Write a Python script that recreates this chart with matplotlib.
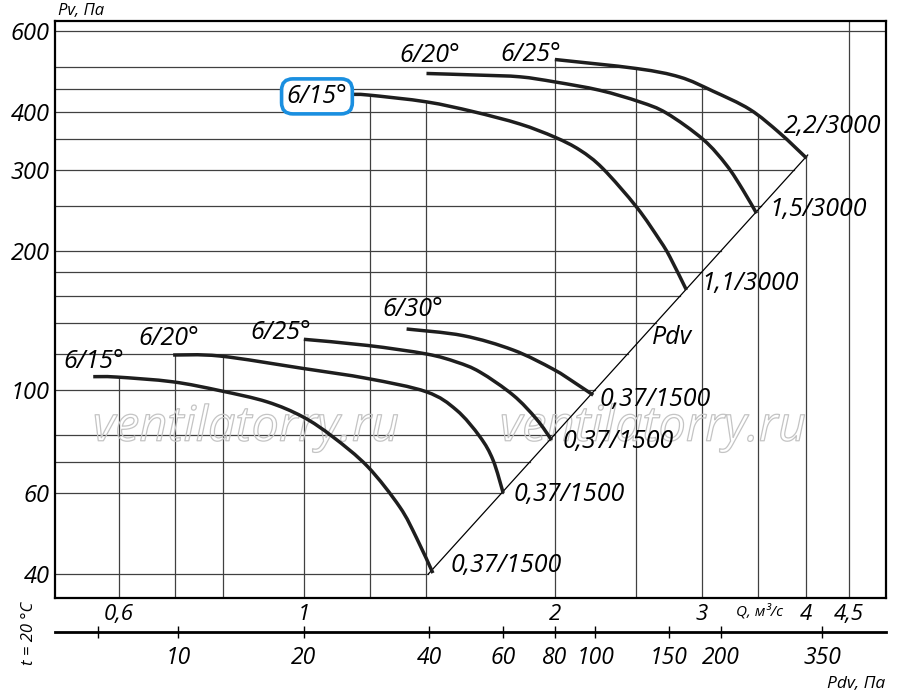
import numpy as np
import matplotlib
matplotlib.use('Agg')
import matplotlib.pyplot as plt
import matplotlib.patheffects as pe
from matplotlib.path import Path
from matplotlib.patches import PathPatch
from matplotlib.ticker import FixedLocator, FixedFormatter, NullLocator

# fan curves, Q in m3/s, Pv in Pa
# 1500 rpm, 0.37 kW
q15_lo = [0.559, 0.596, 0.696, 0.793, 0.903, 0.997, 1.083, 1.193, 1.303, 1.365, 1.428]
p15_lo = [107, 106.8, 104.3, 99.8, 94.4, 87.6, 79.3, 68.3, 55.9, 47.9, 40.2]
q20_lo = [0.697, 0.793, 0.997, 1.193, 1.403, 1.524, 1.626, 1.686, 1.734]
p20_lo = [119.2, 118.6, 111.5, 106.0, 99.2, 90.6, 79.3, 70.6, 59.9]
q25_lo = [1.0, 1.193, 1.403, 1.524, 1.626, 1.782, 1.901, 1.982]
p25_lo = [128.9, 125.0, 119.8, 115.1, 109.5, 97.6, 86.6, 78.0]
q30_lo = [1.328, 1.552, 1.782, 1.990, 2.123, 2.223]
p30_lo = [135.7, 131.3, 122.2, 111.1, 103.2, 97.6]
# 3000 rpm
q15_hi = [1.142, 1.196, 1.403, 1.596, 1.816, 2.0, 2.143, 2.283, 2.507, 2.673, 2.747, 2.876]
p15_hi = [437, 435.5, 421, 401, 377, 353, 331, 302, 249, 211, 194.5, 164.8]
q20_hi = [1.403, 1.626, 1.816, 2.0, 2.264, 2.528, 2.722, 3.012, 3.213, 3.363, 3.49]
p20_hi = [485, 481, 477, 465, 446, 421, 398, 349, 307, 271, 241.5]
q25_hi = [2.0, 2.508, 2.824, 3.093, 3.426, 3.722, 4.007]
p25_hi = [520, 497, 476.4, 444.3, 405.4, 360.2, 318]

# dynamic pressure line
pdv_q = [1.41, 4.02]
pdv_p = [40, 323]
PDV_K = 20  # Pdv = 20 * Q^2

start_labels = ['6/15°', '6/20°', '6/25°', '6/30°', '6/15°', '6/20°', '6/25°']
end_labels = ['0,37/1500', '0,37/1500', '0,37/1500', '0,37/1500',
              '1,1/3000', '1,5/3000', '2,2/3000']

h_grid = [40, 60, 70, 80, 100, 120, 140, 160, 180, 200, 250, 300, 350, 400, 450, 500, 600]
v_grid = [0.6, 0.7, 0.8, 1, 1.2, 1.4, 2, 2.5, 3, 3.5, 4, 4.5]

y_ticks = [40, 60, 100, 200, 300, 400, 600]
x_ticks = [0.6, 1, 2, 3, 4, 4.5]
x_tick_labels = ['0,6', '1', '2', '3', '4', '4,5']
pdv_ticks = [6.4, 10, 20, 40, 60, 80, 100, 150, 200, 350]
pdv_tick_labels = ['', '10', '20', '40', '60', '80', '100', '150', '200', '350']

curves = [(q15_lo, p15_lo), (q20_lo, p20_lo), (q25_lo, p25_lo), (q30_lo, p30_lo),
          (q15_hi, p15_hi), (q20_hi, p20_hi), (q25_hi, p25_hi)]

plt.rcParams['font.family'] = ['Open Sans', 'DejaVu Sans']
plt.rcParams['font.style'] = 'italic'

XMIN, XMAX = 0.503, 4.99
YMIN, YMAX = 35.5, 630


def p_at(q, qs, ps):
    return 10 ** np.interp(np.log10(q), np.log10(qs), np.log10(ps), left=np.nan, right=np.nan)


def q_at(p, qs, ps):
    lp, lq = np.log10(ps), np.log10(qs)
    order = np.argsort(lp)
    return 10 ** np.interp(np.log10(p), lp[order], lq[order], left=np.nan, right=np.nan)


def smooth_path(qs, ps):
    # bezier path through the read points (catmull-rom handles, log space)
    pts = np.column_stack([np.log10(qs), np.log10(ps)])
    ext = np.vstack([pts[0], pts, pts[-1]])
    verts, codes = [pts[0]], [Path.MOVETO]
    for i in range(len(pts) - 1):
        a, b, c, d = ext[i], ext[i + 1], ext[i + 2], ext[i + 3]
        verts += [b + (c - a) / 6, c - (d - b) / 6, c]
        codes += [Path.CURVE4] * 3
    return Path(10 ** np.array(verts), codes)


fig = plt.figure(figsize=(9, 6.94), dpi=100)
ax = fig.add_axes([55 / 900, 96 / 694, 831 / 900, 577 / 694])
ax.set_xscale('log')
ax.set_yscale('log')
ax.set_xlim(XMIN, XMAX)
ax.set_ylim(YMIN, YMAX)

all_lines = curves + [(pdv_q, pdv_p)]
grid_kw = dict(color='#404040', lw=0.9, zorder=1)

# horizontal grid stops at the outer curve / Pdv line
for p in h_grid:
    ends = [q_at(p, np.array(qs), np.array(ps)) for qs, ps in all_lines]
    ends = [e for e in ends if not np.isnan(e)]
    right = max(ends) if ends else XMAX
    ax.plot([XMIN, right], [p, p], **grid_kw)

# vertical grid stops at the top curve
for q in v_grid:
    tops = [p_at(q, np.array(qs), np.array(ps)) for qs, ps in all_lines]
    tops = [t for t in tops if not np.isnan(t)]
    top = max(tops) if tops else YMAX
    ax.plot([q, q], [YMIN, top], **grid_kw)

ax.plot(pdv_q, pdv_p, color='black', lw=0.9, zorder=2)

for qs, ps in curves:
    ax.add_patch(PathPatch(smooth_path(qs, ps), fill=False, ec='#1e1e1e', lw=2.5,
                           capstyle='butt', zorder=3))

# curve labels, offsets in pixels from the curve start / end
start_offsets = [(1, 15), (-4, 17), (-23, 7), (6, 19), (-35, -2), (3, 18), (-24, 5)]
end_offsets = [(73, 8), (66, -1), (67, -1), (62, -4), (64, 7), (62, 4), (26, 32)]
for i, (qs, ps) in enumerate(curves):
    kw = dict(textcoords='offset pixels', ha='center', va='center', fontsize=18, zorder=5)
    if i == 4:
        kw['bbox'] = dict(boxstyle='round,pad=0.2,rounding_size=0.45', fc='white',
                          ec='#1a8fe0', lw=2.6)
    ax.annotate(start_labels[i], (qs[0], ps[0]), xytext=start_offsets[i], **kw)
    ax.annotate(end_labels[i], (qs[-1], ps[-1]), xytext=end_offsets[i],
                textcoords='offset pixels', ha='center', va='center', fontsize=18, zorder=5)

ax.text(2.76, 130, 'Pdv', ha='center', va='center', fontsize=18, zorder=5)

# watermark
for wx in (246, 653):
    ax.text(wx / 900, 1 - 428 / 694, 'ventilatorry.ru', transform=fig.transFigure,
            ha='center', va='center', fontsize=35, color='none', zorder=1.5,
            path_effects=[pe.Stroke(linewidth=0.9, foreground='#c4c4c4')])

# axes and ticks
for s in ax.spines.values():
    s.set_linewidth(1.6)
ax.yaxis.set_major_locator(FixedLocator(y_ticks))
ax.yaxis.set_major_formatter(FixedFormatter([str(v) for v in y_ticks]))
ax.yaxis.set_minor_locator(NullLocator())
ax.xaxis.set_major_locator(FixedLocator(x_ticks))
ax.xaxis.set_major_formatter(FixedFormatter(x_tick_labels))
ax.xaxis.set_minor_locator(NullLocator())
ax.tick_params(axis='y', length=0, pad=4, labelsize=17)
ax.tick_params(axis='x', length=0, pad=4, labelsize=16)

sec = ax.secondary_xaxis(-0.059, functions=(lambda q: PDV_K * np.asarray(q) ** 2,
                                            lambda p: np.sqrt(np.clip(np.asarray(p), 1e-9, None) / PDV_K)))
sec.set_xscale('log')
sec.xaxis.set_major_locator(FixedLocator(pdv_ticks))
sec.xaxis.set_major_formatter(FixedFormatter(pdv_tick_labels))
sec.xaxis.set_minor_locator(NullLocator())
sec.tick_params(axis='x', direction='inout', length=8, width=1.0, pad=6, labelsize=16.5)
sec.spines['bottom'].set_linewidth(2.0)

fig.text(58 / 900, 1 - 11 / 694, 'Pv, Па', ha='left', va='center', fontsize=12)
fig.text(760 / 900, 1 - 612 / 694, 'Q, м³/с', ha='center', va='center', fontsize=11)
fig.text(885 / 900, 1 - 684 / 694, 'Pdv, Па', ha='right', va='center', fontsize=12.5)
fig.text(29 / 900, 1 - 633 / 694, 't = 20 °C', ha='center', va='center', fontsize=12, rotation=90)

fig.savefig('out.png', dpi=100)
